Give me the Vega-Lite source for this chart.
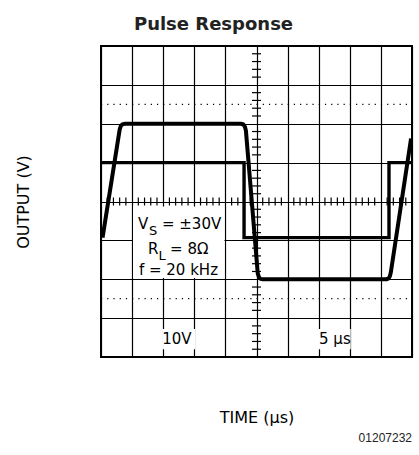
{
  "$schema": "https://vega.github.io/schema/vega-lite/v6.json",
  "width": 311,
  "height": 311,
  "autosize": "none",
  "padding": {"left": 101, "top": 46, "right": 7, "bottom": 98},
  "background": "white",
  "title": {"text": "Pulse Response", "font": "DejaVu Sans", "fontSize": 18, "fontWeight": "bold", "color": "#222222", "anchor": "middle", "dx": -43, "baseline": "alphabetic", "offset": -2},
  "config": {
    "view": {"stroke": "black", "strokeWidth": 2},
    "font": "DejaVu Sans",
    "axis": {"grid": true, "gridColor": "black", "gridWidth": 1.2, "gridOpacity": 1, "labels": false, "ticks": false, "domain": false, "titleFont": "DejaVu Sans", "titleFontSize": 16, "titleFontWeight": "normal", "titleColor": "black", "titleBaseline": "alphabetic"}
  },
  "datasets": {
    "out": [
      {"i": 1, "x": 0.05, "y": -0.93}, {"i": 2, "x": 0.60, "y": 1.85}, {"i": 3, "x": 0.64, "y": 1.95}, {"i": 4, "x": 0.70, "y": 1.99}, {"i": 5, "x": 0.78, "y": 2.0},
      {"i": 6, "x": 4.50, "y": 2.0}, {"i": 7, "x": 4.58, "y": 1.98}, {"i": 8, "x": 4.63, "y": 1.92}, {"i": 9, "x": 4.66, "y": 1.82},
      {"i": 10, "x": 5.04, "y": -1.85}, {"i": 11, "x": 5.08, "y": -1.95}, {"i": 12, "x": 5.13, "y": -1.99}, {"i": 13, "x": 5.20, "y": -2.0},
      {"i": 14, "x": 9.18, "y": -2.0}, {"i": 15, "x": 9.25, "y": -1.98}, {"i": 16, "x": 9.29, "y": -1.92}, {"i": 17, "x": 9.32, "y": -1.82}, {"i": 18, "x": 9.97, "y": 1.62}
    ],
    "inp": [
      {"i": 1, "x": 0, "y": 1.0}, {"i": 2, "x": 4.6, "y": 1.0}, {"i": 3, "x": 4.6, "y": -0.93}, {"i": 4, "x": 9.26, "y": -0.93}, {"i": 5, "x": 9.26, "y": 1.0}, {"i": 6, "x": 10, "y": 1.0}
    ],
    "dots": [{"x": 0, "x2": 10, "y": 2.5}, {"x": 0, "x2": 10, "y": -2.5}],
    "xt": [
      {"x": 0.2, "y": 0}, {"x": 0.4, "y": 0}, {"x": 0.6, "y": 0}, {"x": 0.8, "y": 0},
      {"x": 1.2, "y": 0}, {"x": 1.4, "y": 0}, {"x": 1.6, "y": 0}, {"x": 1.8, "y": 0},
      {"x": 2.2, "y": 0}, {"x": 2.4, "y": 0}, {"x": 2.6, "y": 0}, {"x": 2.8, "y": 0},
      {"x": 3.2, "y": 0}, {"x": 3.4, "y": 0}, {"x": 3.6, "y": 0}, {"x": 3.8, "y": 0},
      {"x": 4.2, "y": 0}, {"x": 4.4, "y": 0}, {"x": 4.6, "y": 0}, {"x": 4.8, "y": 0},
      {"x": 5.2, "y": 0}, {"x": 5.4, "y": 0}, {"x": 5.6, "y": 0}, {"x": 5.8, "y": 0},
      {"x": 6.2, "y": 0}, {"x": 6.4, "y": 0}, {"x": 6.6, "y": 0}, {"x": 6.8, "y": 0},
      {"x": 7.2, "y": 0}, {"x": 7.4, "y": 0}, {"x": 7.6, "y": 0}, {"x": 7.8, "y": 0},
      {"x": 8.2, "y": 0}, {"x": 8.4, "y": 0}, {"x": 8.6, "y": 0}, {"x": 8.8, "y": 0},
      {"x": 9.2, "y": 0}, {"x": 9.4, "y": 0}, {"x": 9.6, "y": 0}, {"x": 9.8, "y": 0}
    ],
    "yt": [
      {"x": 5, "y": -3.8}, {"x": 5, "y": -3.6}, {"x": 5, "y": -3.4}, {"x": 5, "y": -3.2},
      {"x": 5, "y": -2.8}, {"x": 5, "y": -2.6}, {"x": 5, "y": -2.4}, {"x": 5, "y": -2.2},
      {"x": 5, "y": -1.8}, {"x": 5, "y": -1.6}, {"x": 5, "y": -1.4}, {"x": 5, "y": -1.2},
      {"x": 5, "y": -0.8}, {"x": 5, "y": -0.6}, {"x": 5, "y": -0.4}, {"x": 5, "y": -0.2},
      {"x": 5, "y": 0.2}, {"x": 5, "y": 0.4}, {"x": 5, "y": 0.6}, {"x": 5, "y": 0.8},
      {"x": 5, "y": 1.2}, {"x": 5, "y": 1.4}, {"x": 5, "y": 1.6}, {"x": 5, "y": 1.8},
      {"x": 5, "y": 2.2}, {"x": 5, "y": 2.4}, {"x": 5, "y": 2.6}, {"x": 5, "y": 2.8},
      {"x": 5, "y": 3.2}, {"x": 5, "y": 3.4}, {"x": 5, "y": 3.6}, {"x": 5, "y": 3.8}
    ],
    "boxes": [
      {"x": 1.03, "x2": 3.97, "y": -0.13, "y2": -1.97},
      {"x": 1.97, "x2": 3.03, "y": -3.28, "y2": -3.80},
      {"x": 6.97, "x2": 8.03, "y": -3.28, "y2": -3.80}
    ],
    "main": [
      {"x": 1.19, "y": -0.70, "t": "V"},
      {"x": 1.96, "y": -0.70, "t": "= ±30V"},
      {"x": 1.51, "y": -1.34, "t": "R"},
      {"x": 2.22, "y": -1.34, "t": "= 8Ω"},
      {"x": 1.22, "y": -1.88, "t": "f = 20 kHz"}
    ],
    "sub": [
      {"x": 1.54, "y": -0.70, "t": "S"},
      {"x": 1.85, "y": -1.34, "t": "L"}
    ],
    "scl": [
      {"x": 2.44, "y": -3.67, "t": "10V"},
      {"x": 7.52, "y": -3.67, "t": "5 µs"}
    ],
    "code": [{"x": 10, "y": -6.19, "t": "01207232"}]
  },
  "layer": [
    {
      "data": {"name": "dots"},
      "mark": {"type": "rule", "color": "black", "strokeWidth": 1.2, "strokeDash": [1.2, 5.02]},
      "encoding": {
        "x": {"field": "x", "type": "quantitative", "scale": {"domain": [0, 10], "nice": false, "zero": false}, "axis": {"values": [0, 1, 2, 3, 4, 5, 6, 7, 8, 9, 10], "tickCount": 11, "title": "TIME (µs)", "titlePadding": 65}},
        "x2": {"field": "x2"},
        "y": {"field": "y", "type": "quantitative", "scale": {"domain": [-4, 4], "nice": false, "zero": false}, "axis": {"values": [-4, -3, -2, -1, 0, 1, 2, 3, 4], "tickCount": 9, "title": "OUTPUT (V)", "titlePadding": 73}}
      }
    },
    {
      "data": {"name": "xt"},
      "mark": {"type": "tick", "orient": "vertical", "size": 8, "thickness": 1.2, "color": "black", "opacity": 1},
      "encoding": {
        "x": {"field": "x", "type": "quantitative", "scale": {"domain": [0, 10], "nice": false, "zero": false}, "axis": {"values": [0, 1, 2, 3, 4, 5, 6, 7, 8, 9, 10], "tickCount": 11, "title": "TIME (µs)", "titlePadding": 65}},
        "y": {"field": "y", "type": "quantitative", "scale": {"domain": [-4, 4], "nice": false, "zero": false}, "axis": {"values": [-4, -3, -2, -1, 0, 1, 2, 3, 4], "tickCount": 9, "title": "OUTPUT (V)", "titlePadding": 73}}
      }
    },
    {
      "data": {"name": "yt"},
      "mark": {"type": "tick", "orient": "horizontal", "size": 9, "thickness": 1.2, "color": "black", "opacity": 1},
      "encoding": {
        "x": {"field": "x", "type": "quantitative", "scale": {"domain": [0, 10], "nice": false, "zero": false}, "axis": {"values": [0, 1, 2, 3, 4, 5, 6, 7, 8, 9, 10], "tickCount": 11, "title": "TIME (µs)", "titlePadding": 65}},
        "y": {"field": "y", "type": "quantitative", "scale": {"domain": [-4, 4], "nice": false, "zero": false}, "axis": {"values": [-4, -3, -2, -1, 0, 1, 2, 3, 4], "tickCount": 9, "title": "OUTPUT (V)", "titlePadding": 73}}
      }
    },
    {
      "data": {"name": "boxes"},
      "mark": {"type": "rect", "fill": "white", "stroke": null},
      "encoding": {
        "x": {"field": "x", "type": "quantitative", "scale": {"domain": [0, 10], "nice": false, "zero": false}, "axis": {"values": [0, 1, 2, 3, 4, 5, 6, 7, 8, 9, 10], "tickCount": 11, "title": "TIME (µs)", "titlePadding": 65}},
        "x2": {"field": "x2"},
        "y": {"field": "y", "type": "quantitative", "scale": {"domain": [-4, 4], "nice": false, "zero": false}, "axis": {"values": [-4, -3, -2, -1, 0, 1, 2, 3, 4], "tickCount": 9, "title": "OUTPUT (V)", "titlePadding": 73}},
        "y2": {"field": "y2"}
      }
    },
    {
      "data": {"name": "main"},
      "mark": {"type": "text", "align": "left", "baseline": "alphabetic", "font": "DejaVu Sans", "fontSize": 15, "color": "black"},
      "encoding": {
        "x": {"field": "x", "type": "quantitative", "scale": {"domain": [0, 10], "nice": false, "zero": false}, "axis": {"values": [0, 1, 2, 3, 4, 5, 6, 7, 8, 9, 10], "tickCount": 11, "title": "TIME (µs)", "titlePadding": 65}},
        "y": {"field": "y", "type": "quantitative", "scale": {"domain": [-4, 4], "nice": false, "zero": false}, "axis": {"values": [-4, -3, -2, -1, 0, 1, 2, 3, 4], "tickCount": 9, "title": "OUTPUT (V)", "titlePadding": 73}},
        "text": {"field": "t"}
      }
    },
    {
      "data": {"name": "sub"},
      "mark": {"type": "text", "align": "left", "baseline": "alphabetic", "font": "DejaVu Sans", "fontSize": 13, "dy": 6, "color": "black"},
      "encoding": {
        "x": {"field": "x", "type": "quantitative", "scale": {"domain": [0, 10], "nice": false, "zero": false}, "axis": {"values": [0, 1, 2, 3, 4, 5, 6, 7, 8, 9, 10], "tickCount": 11, "title": "TIME (µs)", "titlePadding": 65}},
        "y": {"field": "y", "type": "quantitative", "scale": {"domain": [-4, 4], "nice": false, "zero": false}, "axis": {"values": [-4, -3, -2, -1, 0, 1, 2, 3, 4], "tickCount": 9, "title": "OUTPUT (V)", "titlePadding": 73}},
        "text": {"field": "t"}
      }
    },
    {
      "data": {"name": "scl"},
      "mark": {"type": "text", "align": "center", "baseline": "alphabetic", "font": "DejaVu Sans", "fontSize": 15, "color": "black"},
      "encoding": {
        "x": {"field": "x", "type": "quantitative", "scale": {"domain": [0, 10], "nice": false, "zero": false}, "axis": {"values": [0, 1, 2, 3, 4, 5, 6, 7, 8, 9, 10], "tickCount": 11, "title": "TIME (µs)", "titlePadding": 65}},
        "y": {"field": "y", "type": "quantitative", "scale": {"domain": [-4, 4], "nice": false, "zero": false}, "axis": {"values": [-4, -3, -2, -1, 0, 1, 2, 3, 4], "tickCount": 9, "title": "OUTPUT (V)", "titlePadding": 73}},
        "text": {"field": "t"}
      }
    },
    {
      "data": {"name": "code"},
      "mark": {"type": "text", "align": "right", "baseline": "alphabetic", "font": "Liberation Sans", "fontSize": 12, "color": "#222222"},
      "encoding": {
        "x": {"field": "x", "type": "quantitative", "scale": {"domain": [0, 10], "nice": false, "zero": false}, "axis": {"values": [0, 1, 2, 3, 4, 5, 6, 7, 8, 9, 10], "tickCount": 11, "title": "TIME (µs)", "titlePadding": 65}},
        "y": {"field": "y", "type": "quantitative", "scale": {"domain": [-4, 4], "nice": false, "zero": false}, "axis": {"values": [-4, -3, -2, -1, 0, 1, 2, 3, 4], "tickCount": 9, "title": "OUTPUT (V)", "titlePadding": 73}},
        "text": {"field": "t"}
      }
    },
    {
      "data": {"name": "inp"},
      "mark": {"type": "line", "color": "black", "strokeWidth": 3.4, "strokeJoin": "miter", "strokeCap": "butt"},
      "encoding": {
        "x": {"field": "x", "type": "quantitative", "scale": {"domain": [0, 10], "nice": false, "zero": false}, "axis": {"values": [0, 1, 2, 3, 4, 5, 6, 7, 8, 9, 10], "tickCount": 11, "title": "TIME (µs)", "titlePadding": 65}},
        "y": {"field": "y", "type": "quantitative", "scale": {"domain": [-4, 4], "nice": false, "zero": false}, "axis": {"values": [-4, -3, -2, -1, 0, 1, 2, 3, 4], "tickCount": 9, "title": "OUTPUT (V)", "titlePadding": 73}},
        "order": {"field": "i", "type": "quantitative"}
      }
    },
    {
      "data": {"name": "out"},
      "mark": {"type": "line", "color": "black", "strokeWidth": 4, "strokeJoin": "round", "strokeCap": "butt"},
      "encoding": {
        "x": {"field": "x", "type": "quantitative", "scale": {"domain": [0, 10], "nice": false, "zero": false}, "axis": {"values": [0, 1, 2, 3, 4, 5, 6, 7, 8, 9, 10], "tickCount": 11, "title": "TIME (µs)", "titlePadding": 65}},
        "y": {"field": "y", "type": "quantitative", "scale": {"domain": [-4, 4], "nice": false, "zero": false}, "axis": {"values": [-4, -3, -2, -1, 0, 1, 2, 3, 4], "tickCount": 9, "title": "OUTPUT (V)", "titlePadding": 73}},
        "order": {"field": "i", "type": "quantitative"}
      }
    }
  ]
}
